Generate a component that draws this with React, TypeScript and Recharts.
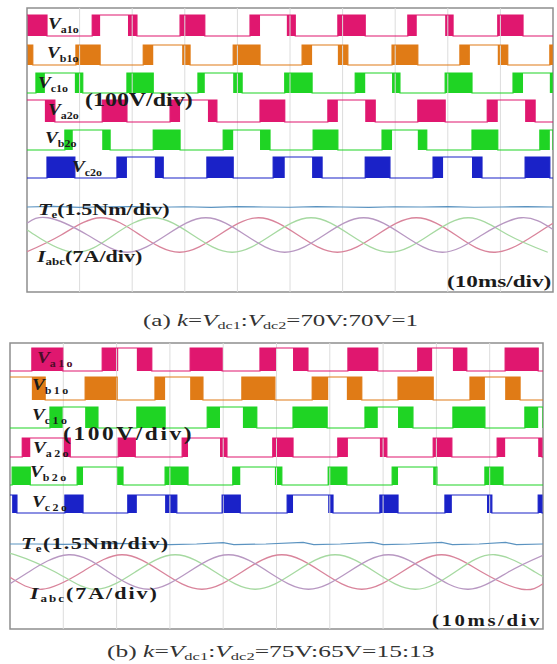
import React from 'react';
import { ComposedChart, Line, Area, XAxis, YAxis, ReferenceLine, ReferenceArea } from 'recharts';

// Time base: 10 divisions of 10 ms
const divisionTicks = [10, 20, 30, 40, 50, 60, 70, 80, 90];

// Leg voltages, times in ms.
// [on, off] = one solid PWM block; [on1, off1, on2, off2] = two blocks joined at the high level.
// (a) k = 70V:70V = 1
const va1oA = [[0, 3.8], [12.4, 13.9, 19.2, 20.9], [29.1, 33.8], [42.4, 44.3, 49.4, 51.0], [59.1, 64.3], [72.4, 74.1, 79.5, 81.0], [89.5, 94.3]];
const vb1oA = [[0, 1.1], [9.3, 13.9], [22.1, 24.0, 29.5, 31.0], [39.2, 44.3], [52.3, 54.2, 59.1, 61.0], [69.4, 74.3], [82.3, 84.2, 89.5, 91.4], [99.4, 100]];
const vc1oA = [[1.7, 3.4, 9.1, 10.6], [19.0, 24.0], [32.5, 33.8, 39.2, 40.9], [49.0, 54.2], [62.4, 64.3, 69.4, 70.9], [79.5, 84.6], [92.4, 94.3, 99.4, 100]];
const va2oA = [[0, 0, 3.4, 5.3], [14.3, 19.0], [27.2, 29.1, 34.4, 36.1], [44.3, 49.0], [57.2, 59.1, 64.3, 66.2], [74.3, 79.5], [87.5, 89.5, 94.7, 96.6]];
const vb2oA = [[7.2, 8.7, 14.3, 15.8], [24.0, 29.1], [37.3, 39.2, 44.3, 46.2], [54.4, 59.1], [67.5, 69.4, 74.3, 76.0], [84.6, 89.5], [97.5, 99.4, 100, 100]];
const vc2oA = [[3.8, 9.1], [17.1, 19.0, 24.3, 25.9], [34.2, 39.2], [46.8, 49.0, 54.2, 56.1], [64.3, 69.0], [77.2, 79.1, 84.6, 86.5], [94.7, 99.4]];

// (b) k = 75V:65V = 15:13
const va1oB = [[4.1, 9.9], [17.3, 20.3, 23.8, 26.6], [33.8, 39.8], [46.9, 50.1, 53.1, 55.9], [63.4, 69.0], [76.5, 79.2, 83.1, 85.7], [92.9, 99.1]];
const vb1oB = [[0, 0, 4.1, 6.6], [14.1, 20.1], [27.2, 29.1, 33.8, 36.2], [43.5, 49.7], [56.7, 59.7, 63.2, 66.0], [72.8, 79.4], [86.3, 89.1, 92.9, 95.7]];
const vc1oB = [[7.5, 9.9, 14.1, 16.5], [23.8, 29.1], [37.0, 39.4, 43.7, 46.3], [53.1, 59.5], [66.6, 69.0, 72.8, 75.6], [83.1, 89.1], [96.6, 99.1, 100, 100]];
const va2oB = [[2.3, 3.8, 9.9, 11.3], [20.3, 23.5], [32.3, 33.4, 39.4, 40.7], [49.3, 53.1], [61.5, 63.4, 69.4, 70.7], [79.4, 82.9], [91.4, 92.9, 99.1, 99.8]];
const vb2oB = [[0.4, 3.8], [12.6, 13.7, 20.1, 21.2], [29.1, 33.4], [41.8, 43.2, 49.7, 51.0], [59.7, 63.2], [71.7, 72.8, 79.4, 80.1], [89.1, 92.5]];
const vc2oB = [[0, 0, 0.4, 1.3], [10.3, 13.7], [22.1, 23.8, 29.1, 31.3], [39.8, 43.2], [52.0, 53.1, 59.7, 60.6], [69.4, 72.8], [81.6, 82.9, 89.5, 90.4], [99.1, 99.8]];

// Electromagnetic torque (Nm) over time (ms)
const teA = [[0, 3.0], [5, 3.03], [10, 2.98], [15, 3.01], [20, 3.02], [25, 2.99], [30, 3.01], [35, 2.98], [40, 3.02], [45, 3.0], [50, 2.99], [55, 3.02], [60, 3.0], [65, 2.98], [70, 3.01], [75, 3.0], [80, 3.02], [85, 2.99], [90, 3.0], [95, 3.02], [100, 3.0]];
const teB = [[0, 3.0], [5, 3.0], [10, 2.98], [15, 3.0], [20, 3.03], [25, 3.0], [30, 2.97], [35, 3.0], [40, 3.06], [42, 2.97], [48, 3.0], [55, 3.07], [57, 2.97], [62, 3.0], [68, 3.07], [70, 2.97], [75, 3.0], [81, 3.07], [83, 2.97], [88, 3.0], [93, 3.07], [95, 2.97], [100, 3.0]];

// Phase currents (A) over time (ms)
const iaA = [[0, -3.3], [6.5, 0], [14, 3.4], [21.5, 0], [29, -3.4], [36.5, 0], [44, 3.4], [51.5, 0], [59, -3.4], [66.5, 0], [74, 3.4], [81.5, 0], [89, -3.4], [96.5, 0], [100, 2.3]];
const ibA = [[0, 1.1], [1.5, 0], [9, -3.4], [16.5, 0], [24, 3.4], [31.5, 0], [39, -3.4], [46.5, 0], [54, 3.4], [61.5, 0], [69, -3.4], [76.5, 0], [84, 3.4], [91.5, 0], [99, -3.4]];
const icA = [[0, 2.3], [4, 3.4], [11.5, 0], [19, -3.4], [26.5, 0], [34, 3.4], [41.5, 0], [49, -3.4], [56.5, 0], [64, 3.4], [71.5, 0], [79, -3.4], [86.5, 0], [94, 3.4], [100, 1.1]];

const iaB = [[0, -1.05], [6, -3.4], [13.5, 0], [21, 3.4], [28.5, 0], [36, -3.4], [43.5, 0], [51, 3.4], [58.5, 0], [66, -3.4], [73.5, 0], [81, 3.4], [88.5, 0], [96, -3.4], [100, -2.3]];
const ibB = [[0, 3.3], [1, 3.4], [8.5, 0], [16, -3.4], [23.5, 0], [31, 3.4], [38.5, 0], [46, -3.4], [53.5, 0], [61, 3.4], [68.5, 0], [76, -3.4], [83.5, 0], [91, 3.4], [98.5, 0], [100, -0.7]];
const icB = [[0, -2.3], [3.5, 0], [11, 3.4], [18.5, 0], [26, -3.4], [33.5, 0], [41, 3.4], [48.5, 0], [56, -3.4], [63.5, 0], [71, 3.4], [78.5, 0], [86, -3.4], [93.5, 0], [100, 3.3]];

const PINK = '#e0176f';
const ORANGE = '#e07b16';
const GREEN = '#1fd424';
const BLUE = '#1a22c8';
const TE_COLOR = '#5b93c0';
const IA_COLOR = '#d9849b';
const IB_COLOR = '#a6d9a1';
const IC_COLOR = '#b898c2';
const FONT = "'Liberation Serif', 'Times New Roman', serif";

const PX_PER_DIV = 35.5;

const panelA = {
  top: 0, height: 300, margin: { top: 8, right: 4, bottom: 8, left: 27 }, plotH: 284,
  rows: [
    { pulses: va1oA, color: PINK, hi: 7, lo: 28 },
    { pulses: vb1oA, color: ORANGE, hi: 37, lo: 57 },
    { pulses: vc1oA, color: GREEN, hi: 65, lo: 85 },
    { pulses: va2oA, color: PINK, hi: 92, lo: 114 },
    { pulses: vb2oA, color: GREEN, hi: 122, lo: 142 },
    { pulses: vc2oA, color: BLUE, hi: 149, lo: 170 },
  ],
  te: teA, teZero: 270, currents: [iaA, ibA, icA], iCenter: 227,
};

const panelB = {
  top: 335, height: 300, margin: { top: 8, right: 14, bottom: 6, left: 10 }, plotH: 286,
  rows: [
    { pulses: va1oB, color: PINK, hi: 5, lo: 28 },
    { pulses: vb1oB, color: ORANGE, hi: 34, lo: 57 },
    { pulses: vc1oB, color: GREEN, hi: 64, lo: 85 },
    { pulses: va2oB, color: PINK, hi: 95, lo: 114 },
    { pulses: vb2oB, color: GREEN, hi: 124, lo: 142 },
    { pulses: vc2oB, color: BLUE, hi: 152, lo: 170 },
  ],
  te: teB, teZero: 272, currents: [iaB, ibB, icB], iCenter: 229,
};

type Row = { pulses: number[][]; color: string; hi: number; lo: number };

function buildPulseTable(rows: Row[]) {
  const set = new Set<number>([0, 100]);
  rows.forEach((r) => r.pulses.forEach((g) => g.forEach((v) => set.add(v))));
  const times = Array.from(set).sort((a, b) => a - b);
  return times.map((t) => {
    const rec: any = { t };
    rows.forEach((r, i) => {
      let env = false;
      let solid = false;
      r.pulses.forEach((g) => {
        if (t >= g[0] && t < g[g.length - 1]) env = true;
        if (t >= g[0] && t < g[1]) solid = true;
        if (g.length === 4 && t >= g[2] && t < g[3]) solid = true;
      });
      rec[`e${i}`] = env ? r.hi : r.lo;
      rec[`s${i}`] = [r.lo, solid ? r.hi : r.lo];
    });
    return rec;
  });
}

const pxPerNm = PX_PER_DIV / 1.5;
const pxPerA = PX_PER_DIV / 7;

function Panel({ p }: { p: typeof panelA }) {
  const table = buildPulseTable(p.rows);
  const teData = p.te.map(([t, v]) => ({ t, y: p.teZero - v * pxPerNm }));
  const curColors = [IA_COLOR, IB_COLOR, IC_COLOR];
  const curData = p.currents.map((c) => c.map(([t, v]) => ({ t, y: p.iCenter - v * pxPerA })));
  return (
    <div style={{ position: 'absolute', left: 0, top: p.top }}>
      <ComposedChart width={557} height={p.height} data={table} margin={p.margin}>
        <XAxis dataKey="t" type="number" domain={[0, 100]} hide allowDataOverflow />
        <YAxis type="number" domain={[0, p.plotH]} reversed hide allowDataOverflow />
        {divisionTicks.map((t) => (
          <ReferenceLine key={`g${t}`} x={t} stroke="#dcdcdc" strokeWidth={1} />
        ))}
        {curData.map((d, i) => (
          <Line key={`c${i}`} data={d} dataKey="y" type="natural" stroke={curColors[i]} strokeWidth={1.3} dot={false} isAnimationActive={false} />
        ))}
        <Line data={teData} dataKey="y" type="linear" stroke={TE_COLOR} strokeWidth={1.2} dot={false} isAnimationActive={false} />
        {p.rows.map((r, i) => (
          <Area key={`s${i}`} dataKey={`s${i}`} type="stepAfter" stroke="none" fill={r.color} fillOpacity={1} isAnimationActive={false} />
        ))}
        {p.rows.map((r, i) => (
          <Line key={`e${i}`} dataKey={`e${i}`} type="stepAfter" stroke={r.color} strokeWidth={1.2} dot={false} isAnimationActive={false} />
        ))}
        <ReferenceArea x1={0} x2={100} y1={0} y2={p.plotH} fill="none" stroke="#8f8f8f" strokeWidth={1.5} ifOverflow="visible" />
      </ComposedChart>
    </div>
  );
}

function Label({ x, y, sx = 1.35, size = 16, weight = 'bold', color = '#1b1b1b', spacing = 0, children }: any) {
  return (
    <g transform={`translate(${x},${y}) scale(${sx},1)`}>
      <text x={0} y={0} fontFamily={FONT} fontSize={size} fontWeight={weight} fill={color} letterSpacing={spacing}>
        {children}
      </text>
    </g>
  );
}

function Volt({ x, y, sub, color, spacing = 0 }: any) {
  return (
    <Label x={x} y={y} sx={1.2} size={16} color={color}>
      <tspan fontStyle="italic">V</tspan>
      <tspan fontSize={10} dy={4} letterSpacing={spacing}>{sub}</tspan>
    </Label>
  );
}

function Annotations() {
  return (
    <svg width={557} height={664} style={{ position: 'absolute', left: 0, top: 0, pointerEvents: 'none' }}>
      {/* panel (a) */}
      <Volt x={48} y={29} sub="a1o" />
      <Volt x={47} y={58} sub="b1o" />
      <Volt x={38} y={88} sub="c1o" />
      <Label x={85} y={106} size={18} sx={1.33}>(100V/div)</Label>
      <Volt x={48} y={115} sub="a2o" />
      <Volt x={45} y={143} sub="b2o" />
      <Volt x={72} y={172} sub="c2o" />
      <Label x={38} y={215} size={17} sx={1.3}>
        <tspan fontStyle="italic">T</tspan>
        <tspan fontSize={10} dy={3}>e</tspan>
        <tspan dy={-3}>(1.5Nm/div)</tspan>
      </Label>
      <Label x={37} y={262} size={17} sx={1.3}>
        <tspan fontStyle="italic">I</tspan>
        <tspan fontSize={10} dy={3}>abc</tspan>
        <tspan dy={-3}>(7A/div)</tspan>
      </Label>
      <Label x={447} y={287} size={16} sx={1.45}>(10ms/div)</Label>
      <Label x={143} y={326} size={17} sx={1.47} weight="normal" color="#333">
        <tspan>(a) </tspan>
        <tspan fontStyle="italic">k</tspan>
        <tspan>=</tspan>
        <tspan fontStyle="italic">V</tspan>
        <tspan fontSize={11} dy={3}>dc1</tspan>
        <tspan dy={-3}>:</tspan>
        <tspan fontStyle="italic">V</tspan>
        <tspan fontSize={11} dy={3}>dc2</tspan>
        <tspan dy={-3}>=70V:70V=1</tspan>
      </Label>

      {/* panel (b) */}
      <Volt x={37} y={363} sub="a1o" color="#4a0d28" spacing={2} />
      <Volt x={32} y={390} sub="b1o" spacing={2} />
      <Volt x={32} y={420} sub="c1o" spacing={2} />
      <Label x={63} y={440} size={18} sx={1.3} spacing={2}>(100V/div)</Label>
      <Volt x={33} y={453} sub="a2o" spacing={2} />
      <Volt x={30} y={477} sub="b2o" spacing={2} />
      <Volt x={32} y={507} sub="c2o" spacing={2} />
      <Label x={21} y={549} size={17} sx={1.3} spacing={1}>
        <tspan fontStyle="italic">T</tspan>
        <tspan fontSize={10} dy={3}>e</tspan>
        <tspan dy={-3}>(1.5Nm/div)</tspan>
      </Label>
      <Label x={30} y={599} size={17} sx={1.3} spacing={1.5}>
        <tspan fontStyle="italic">I</tspan>
        <tspan fontSize={10} dy={3}>abc</tspan>
        <tspan dy={-3}>(7A/div)</tspan>
      </Label>
      <Label x={432} y={626} size={16} sx={1.3} spacing={2}>(10ms/div</Label>
      <Label x={107} y={657} size={17} sx={1.5} weight="normal" color="#333">
        <tspan>(b) </tspan>
        <tspan fontStyle="italic">k</tspan>
        <tspan>=</tspan>
        <tspan fontStyle="italic">V</tspan>
        <tspan fontSize={11} dy={3}>dc1</tspan>
        <tspan dy={-3}>:</tspan>
        <tspan fontStyle="italic">V</tspan>
        <tspan fontSize={11} dy={3}>dc2</tspan>
        <tspan dy={-3}>=75V:65V=15:13</tspan>
      </Label>
    </svg>
  );
}

export default function App() {
  return (
    <div style={{ position: 'absolute', left: 0, top: 0, width: 557, height: 664, background: '#ffffff', overflow: 'hidden' }}>
      <Panel p={panelA} />
      <Panel p={panelB} />
      <Annotations />
    </div>
  );
}
